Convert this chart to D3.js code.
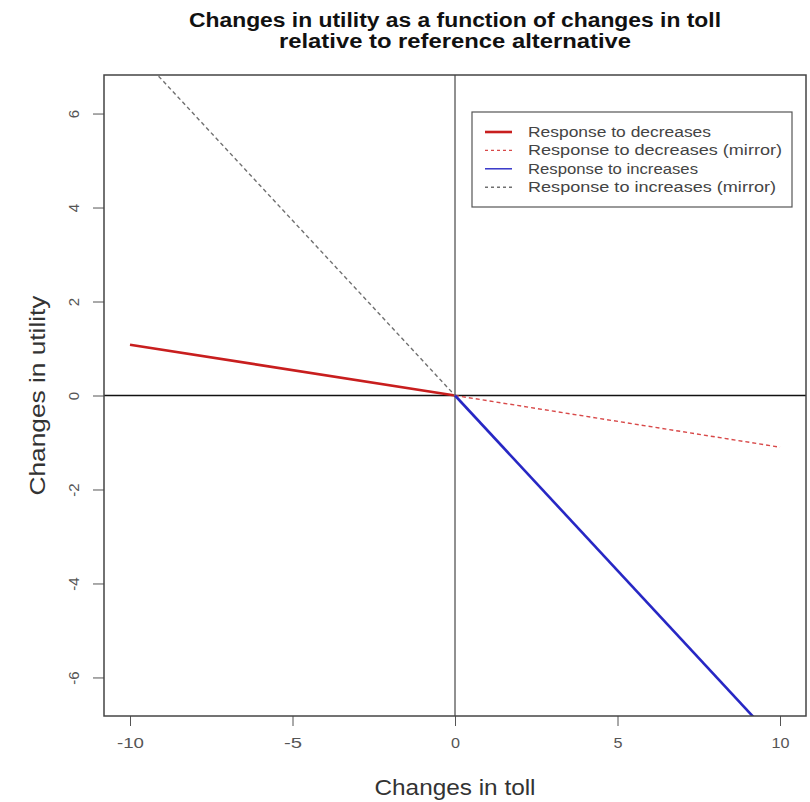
<!DOCTYPE html>
<html>
<head>
<meta charset="utf-8">
<script src="https://cdn.jsdelivr.net/npm/d3@7"></script>
<style>
  body { margin: 0; background: #fff; }
  text { font-family: "Liberation Sans", Arial, sans-serif; }
</style>
</head>
<body>
<div id="chart"></div>
<script>
var svgWidth = 810;
var svgHeight = 802;

var margin = { top: 75, right: 4, bottom: 86, left: 104 };
var width = svgWidth - margin.left - margin.right;
var height = svgHeight - margin.top - margin.bottom;

// data
var decToll = [-10, 0];
var decUtil = [1.08, 0];
var decMirrorToll = [0, 10];
var decMirrorUtil = [0, -1.1];
var incToll = [0, 10];
var incUtil = [0, -7.45];
var incMirrorToll = [-10, 0];
var incMirrorUtil = [7.45, 0];

var xTicks = [-10, -5, 0, 5, 10];
var yTicks = [-6, -4, -2, 0, 2, 4, 6];

var series = [
  { name: "Response to decreases", x: decToll, y: decUtil, color: "#c81e1e", width: 2.6, dash: null },
  { name: "Response to decreases (mirror)", x: decMirrorToll, y: decMirrorUtil, color: "#d84848", width: 1.4, dash: "4,3" },
  { name: "Response to increases", x: incToll, y: incUtil, color: "#2727c4", width: 2.6, dash: null },
  { name: "Response to increases (mirror)", x: incMirrorToll, y: incMirrorUtil, color: "#707070", width: 1.4, dash: "4,3" }
];
var legendLengths = [183, 254, 170, 248];

var svg = d3.select("#chart")
  .append("svg")
  .attr("width", svgWidth)
  .attr("height", svgHeight);

var chartGroup = svg.append("g")
  .attr("transform", `translate(${margin.left}, ${margin.top})`);

var xScale = d3.scaleLinear().domain([-10.8, 10.8]).range([0, width]);
var yScale = d3.scaleLinear().domain([-6.82, 6.82]).range([height, 0]);

svg.append("clipPath").attr("id", "plotClip")
  .append("rect").attr("width", width).attr("height", height);

// title
var titleX = xScale(0) + margin.left;
svg.append("text")
  .attr("x", titleX).attr("y", 27)
  .attr("text-anchor", "middle")
  .style("font-weight", "bold")
  .style("font-size", "20px")
  .attr("fill", "#111")
  .attr("textLength", 532)
  .attr("lengthAdjust", "spacingAndGlyphs")
  .text("Changes in utility as a function of changes in toll");
svg.append("text")
  .attr("x", titleX).attr("y", 48)
  .attr("text-anchor", "middle")
  .style("font-weight", "bold")
  .style("font-size", "20px")
  .attr("fill", "#111")
  .attr("textLength", 352)
  .attr("lengthAdjust", "spacingAndGlyphs")
  .text("relative to reference alternative");

// axes
var bottomAxis = d3.axisBottom(xScale).tickValues(xTicks).tickSize(10).tickPadding(10).tickFormat(d => String(d));
var leftAxis = d3.axisLeft(yScale).tickValues(yTicks).tickSize(11).tickFormat(d => String(d));

var xAxis = chartGroup.append("g")
  .attr("transform", `translate(0, ${height})`)
  .call(bottomAxis);
xAxis.select(".domain").remove();
xAxis.selectAll("line").attr("stroke", "#555");
xAxis.selectAll("text")
  .style("font-size", "15px")
  .attr("fill", "#555")
  .attr("dy", null)
  .attr("y", 32)
  .attr("textLength", d => String(d).length * 9)
  .attr("lengthAdjust", "spacingAndGlyphs");

var yAxis = chartGroup.append("g").call(leftAxis);
yAxis.select(".domain").remove();
yAxis.selectAll("line").attr("stroke", "#555");
yAxis.selectAll(".tick text")
  .style("font-size", "15px")
  .attr("fill", "#555")
  .attr("text-anchor", "middle")
  .attr("dy", null)
  .attr("x", 0)
  .attr("y", 0)
  .attr("dominant-baseline", "central")
  .attr("transform", "translate(-31,0) rotate(-90)");

// axis titles
svg.append("text")
  .attr("x", margin.left + xScale(0))
  .attr("y", 795)
  .attr("text-anchor", "middle")
  .style("font-size", "22px")
  .attr("fill", "#333")
  .attr("textLength", 161)
  .attr("lengthAdjust", "spacingAndGlyphs")
  .text("Changes in toll");

svg.append("text")
  .attr("transform", `translate(45, ${margin.top + yScale(0)}) rotate(-90)`)
  .attr("text-anchor", "middle")
  .style("font-size", "22px")
  .attr("fill", "#333")
  .attr("textLength", 200)
  .attr("lengthAdjust", "spacingAndGlyphs")
  .text("Changes in utility");

// reference lines through the origin
chartGroup.append("line")
  .attr("x1", 0).attr("x2", width)
  .attr("y1", yScale(0)).attr("y2", yScale(0))
  .attr("stroke", "#111").attr("stroke-width", 1.6);
chartGroup.append("line")
  .attr("x1", xScale(0)).attr("x2", xScale(0))
  .attr("y1", 0).attr("y2", height)
  .attr("stroke", "#222").attr("stroke-width", 1);

// series lines
var line = d3.line()
  .x(d => xScale(d[0]))
  .y(d => yScale(d[1]));

var plot = chartGroup.append("g").attr("clip-path", "url(#plotClip)");
series.forEach(function(s) {
  plot.append("path")
    .datum(s.x.map((v, i) => [v, s.y[i]]))
    .attr("d", line)
    .attr("fill", "none")
    .attr("stroke", s.color)
    .attr("stroke-width", s.width)
    .attr("stroke-dasharray", s.dash);
});

// plot box
chartGroup.append("rect")
  .attr("width", width).attr("height", height)
  .attr("fill", "none")
  .attr("stroke", "#444").attr("stroke-width", 1.5);

// legend
var legend = svg.append("g").attr("transform", "translate(472, 112)");
legend.append("rect")
  .attr("width", 320).attr("height", 95)
  .attr("fill", "#fff")
  .attr("stroke", "#555").attr("stroke-width", 1.2);

var rows = legend.selectAll(".row")
  .data(series)
  .enter()
  .append("g")
  .attr("transform", (d, i) => `translate(0, ${20 + i * 18.4})`);

rows.append("line")
  .attr("x1", 13).attr("x2", 40)
  .attr("stroke", d => d.color)
  .attr("stroke-width", (d, i) => i === 0 ? 2.6 : 1.4)
  .attr("stroke-dasharray", d => d.dash ? "3,3" : null);

rows.append("text")
  .attr("x", 56)
  .attr("dy", "0.36em")
  .style("font-size", "14px")
  .attr("fill", "#444")
  .attr("textLength", (d, i) => legendLengths[i])
  .attr("lengthAdjust", "spacingAndGlyphs")
  .text(d => d.name);
</script>
</body>
</html>
